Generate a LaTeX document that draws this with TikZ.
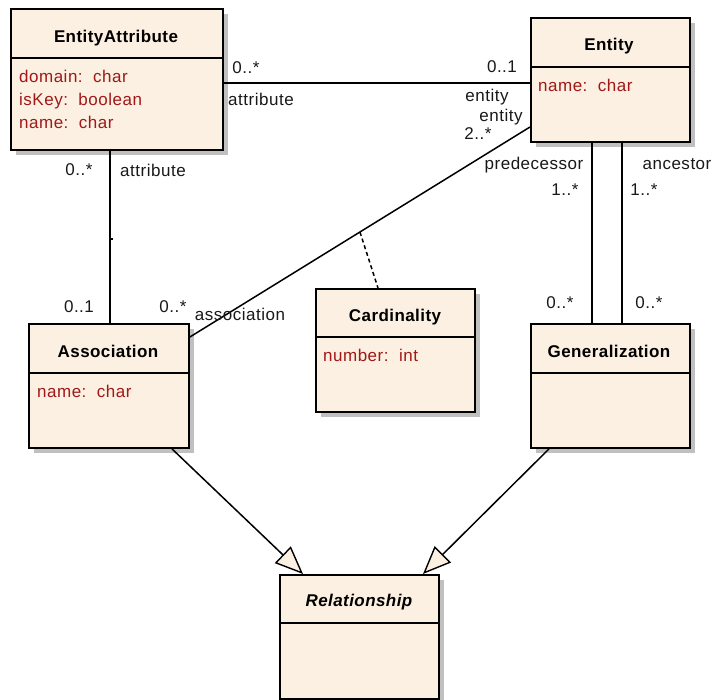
\documentclass[tikz,border=0pt]{standalone}
\usepackage{fontspec}
\setmainfont{Liberation Sans}
\newfontfamily\labelfont[LetterSpace=3]{Liberation Sans}
\newfontfamily\titlefont[LetterSpace=2.5]{Liberation Sans}
\usetikzlibrary{arrows.meta,shadows,calc}
\definecolor{classfill}{RGB}{251,240,225}
\definecolor{attrred}{RGB}{160,24,24}
\definecolor{shadowgray}{RGB}{192,192,192}
\begin{document}
\begin{tikzpicture}[x=1pt,y=-1pt,
  classbox/.style={draw=black, line width=1.9pt, fill=classfill, rectangle,
    anchor=north west, inner sep=0pt,
    drop shadow={shadow xshift=5pt,shadow yshift=-5pt,fill=shadowgray,opacity=1}},
  title/.style={font=\titlefont\fontsize{17}{20}\selectfont\bfseries, text height=12pt, text depth=0pt, inner sep=0pt},
  attr/.style={font=\labelfont\fontsize{17}{20}\selectfont, text=attrred, anchor=west,
    text height=12pt, text depth=0pt, inner sep=0pt},
  lbl/.style={font=\labelfont\fontsize{17}{20}\selectfont, text=black!90,
    text height=12pt, text depth=0pt, inner sep=0pt},
  conn/.style={line width=1.5pt},
  divider/.style={line width=1.8pt},
  inherit/.style={conn, -{Triangle[length=28pt,width=23pt,fill=classfill,line width=1.4pt]}},
]
\fill[white] (0,0) rectangle (715,700);
\useasboundingbox (0,0) rectangle (715,700);

% class boxes
\node[classbox, minimum width=212pt, minimum height=141pt] (ea) at (10,8) {};
\node[classbox, minimum width=159pt, minimum height=124pt] (ent) at (530,17) {};
\node[classbox, minimum width=160pt, minimum height=124pt] (assoc) at (28,323) {};
\node[classbox, minimum width=159pt, minimum height=123pt] (card) at (315,288) {};
\node[classbox, minimum width=159pt, minimum height=124pt] (gen) at (530,323) {};
\node[classbox, minimum width=159pt, minimum height=124pt] (rel) at (279,574) {};

% compartment dividers
\draw[divider] (ea.west |- 0,58) -- (ea.east |- 0,58);
\draw[divider] (ent.west |- 0,67) -- (ent.east |- 0,67);
\draw[divider] (assoc.west |- 0,373) -- (assoc.east |- 0,373);
\draw[divider] (card.west |- 0,337) -- (card.east |- 0,337);
\draw[divider] (gen.west |- 0,373) -- (gen.east |- 0,373);
\draw[divider] (rel.west |- 0,623) -- (rel.east |- 0,623);

% class names
\node[title] (eaname) at (116,37) {EntityAttribute};
\node[title] (entname) at (609,45) {Entity};
\node[title] (assocname) at (108,351.5) {Association};
\node[title] (cardname) at (395,316) {Cardinality};
\node[title] (genname) at (609,351.5) {Generalization};
\node[title, font=\titlefont\fontsize{17}{20}\selectfont\bfseries\itshape] (relname) at (359,600.5) {Relationship};

% attributes
\node[attr] (ea1) at (19,76.5) {domain:\ \ char};
\node[attr] (ea2) at (19,100) {isKey:\ \ boolean};
\node[attr] (ea3) at (19,123) {name:\ \ char};
\node[attr] (ent1) at (538,85.5) {name:\ \ char};
\node[attr] (assoc1) at (37,391.5) {name:\ \ char};
\node[attr] (card1) at (323,356) {number:\ \ int};

% associations
\draw[conn] (ea.east |- 0,83) -- (ent.west |- 0,83);
\draw[conn] (ea.south -| 110,0) -- (assoc.north -| 110,0);
\coordinate (vmid) at (110,239);
\draw[line width=1.2pt] (vmid) -- ++(2.5,0);
\draw[conn] (assoc.east |- 0,337) coordinate (d1) -- (ent.west |- 0,127) coordinate (d2);
\draw[conn] (ent.south -| 592,0) -- (gen.north -| 592,0);
\draw[conn] (ent.south -| 622,0) -- (gen.north -| 622,0);

% association class link
\coordinate (dmid) at ($(d1)!0.5!(d2)$);
\draw[line width=1.5pt, dash pattern=on 4pt off 3pt] (dmid) -- (card.north -| 378,0);

% generalizations
\draw[inherit] (assoc.south -| 172,0) -- (rel.north -| 303,0);
\draw[inherit] (gen.south -| 549,0) -- (rel.north -| 423,0);

% role names and multiplicities
\node[lbl] (m1) at (246,68) {0..*};
\node[lbl] (r1) at (261,100) {attribute};
\node[lbl] (m2) at (502,67) {0..1};
\node[lbl] (r2) at (487,96) {entity};
\node[lbl] (r3) at (501,116) {entity};
\node[lbl] (m3) at (478,134) {2..*};
\node[lbl] (m4) at (79,170) {0..*};
\node[lbl] (r4) at (153,171) {attribute};
\node[lbl] (m5) at (79,307) {0..1};
\node[lbl] (m6) at (173,307) {0..*};
\node[lbl] (r5) at (240,315) {association};
\node[lbl] (r6) at (534,164) {predecessor};
\node[lbl] (m7) at (565,190) {1..*};
\node[lbl] (r7) at (677,164) {ancestor};
\node[lbl] (m8) at (644,190) {1..*};
\node[lbl] (m9) at (560,303) {0..*};
\node[lbl] (m10) at (649,303) {0..*};
\end{tikzpicture}
\end{document}
